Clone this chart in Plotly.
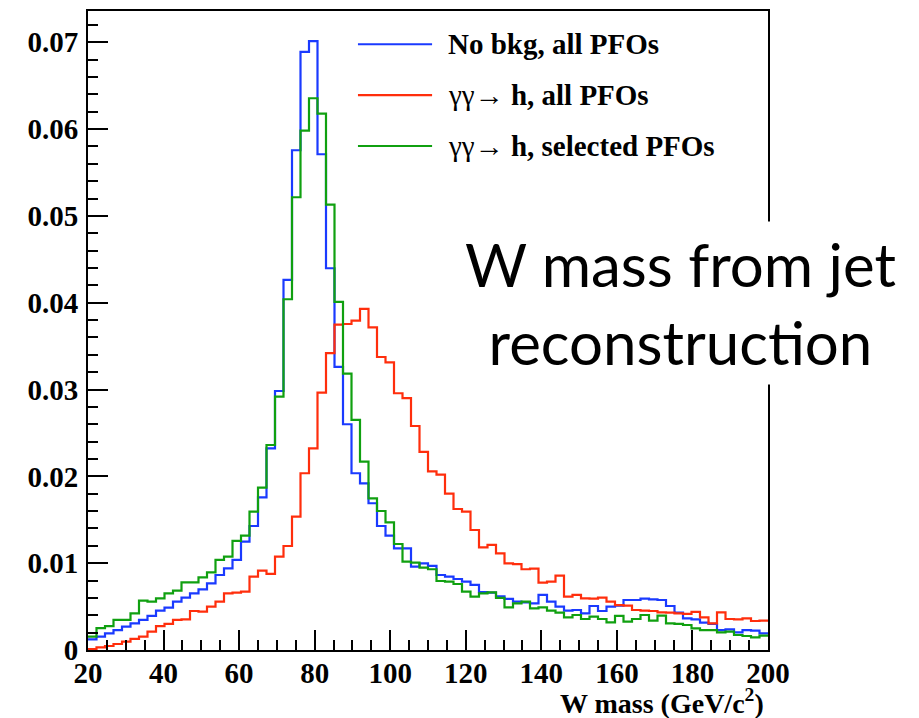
import numpy as np
import plotly.graph_objects as go

# ---- binning ----
x_min, x_max, n_bins = 20.0, 200.0, 80
bin_edges = np.linspace(x_min, x_max, n_bins + 1)

# ---- series values (normalised entries per bin) ----
no_bkg_all = [
    0.00123, 0.00153, 0.00192, 0.00230, 0.00269, 0.00307, 0.00346, 0.00392, 0.00453, 0.00488,
    0.00557, 0.00603, 0.00653, 0.00699, 0.00768, 0.00864, 0.00941, 0.01037, 0.01248, 0.01428,
    0.01759, 0.02323, 0.02983, 0.04262, 0.05756, 0.06889, 0.07012, 0.05710, 0.04397, 0.03260,
    0.02600, 0.02036, 0.01920, 0.01690, 0.01428, 0.01317, 0.01171, 0.01171, 0.00960, 0.00998,
    0.00968, 0.00864, 0.00845, 0.00818, 0.00787, 0.00749, 0.00668, 0.00660, 0.00618, 0.00590,
    0.00557, 0.00549, 0.00537, 0.00634, 0.00557, 0.00499, 0.00453, 0.00461, 0.00422, 0.00507,
    0.00449, 0.00499, 0.00510, 0.00576, 0.00576, 0.00591, 0.00584, 0.00576, 0.00507, 0.00430,
    0.00365, 0.00353, 0.00315, 0.00300, 0.00230, 0.00238, 0.00204, 0.00230, 0.00223, 0.00192,
]
gg_h_all = [
    0.00010, 0.00030, 0.00046, 0.00069, 0.00096, 0.00127, 0.00153, 0.00211, 0.00276, 0.00300,
    0.00346, 0.00353, 0.00449, 0.00441, 0.00499, 0.00557, 0.00653, 0.00660, 0.00672, 0.00845,
    0.00914, 0.00876, 0.01075, 0.01198, 0.01536, 0.02036, 0.02323, 0.02964, 0.03420, 0.03748,
    0.03755, 0.03794, 0.03930, 0.03717, 0.03375, 0.03314, 0.02957, 0.02900, 0.02580, 0.02283,
    0.02058, 0.02020, 0.01800, 0.01624, 0.01593, 0.01382, 0.01183, 0.01210, 0.01113, 0.00998,
    0.00990, 0.00930, 0.00937, 0.00776, 0.00787, 0.00856, 0.00614, 0.00634, 0.00595, 0.00591,
    0.00603, 0.00557, 0.00518, 0.00510, 0.00461, 0.00453, 0.00449, 0.00434, 0.00430, 0.00422,
    0.00415, 0.00438, 0.00376, 0.00307, 0.00434, 0.00357, 0.00353, 0.00365, 0.00334, 0.00338,
]
gg_h_selected = [
    0.00153, 0.00253, 0.00276, 0.00346, 0.00346, 0.00422, 0.00568, 0.00557, 0.00595, 0.00653,
    0.00683, 0.00779, 0.00779, 0.00837, 0.00895, 0.01037, 0.01075, 0.01256, 0.01317, 0.01593,
    0.01870, 0.02361, 0.02918, 0.04040, 0.05215, 0.05982, 0.06355, 0.06178, 0.05130, 0.04010,
    0.03183, 0.02650, 0.02169, 0.01747, 0.01601, 0.01471, 0.01221, 0.01017, 0.01006, 0.00948,
    0.00930, 0.00795, 0.00787, 0.00760, 0.00672, 0.00614, 0.00653, 0.00664, 0.00600, 0.00491,
    0.00537, 0.00557, 0.00480, 0.00491, 0.00453, 0.00430, 0.00376, 0.00403, 0.00357, 0.00384,
    0.00357, 0.00319, 0.00392, 0.00326, 0.00357, 0.00403, 0.00338, 0.00396, 0.00307, 0.00300,
    0.00288, 0.00250, 0.00230, 0.00230, 0.00204, 0.00211, 0.00173, 0.00161, 0.00146, 0.00165,
]

series_names = ["<b>No bkg, all PFOs</b>", "γγ→ <b>h, all PFOs</b>", "γγ→ <b>h, selected PFOs</b>"]
series_colors = ["#1a3aff", "#ff2e0c", "#10a010"]
series_values = [no_bkg_all, gg_h_all, gg_h_selected]

# ---- tick labels ----
x_tick_vals = [20, 40, 60, 80, 100, 120, 140, 160, 180, 200]
x_tick_text = ["20", "40", "60", "80", "100", "120", "140", "160", "180", "200"]
y_tick_vals = [0, 0.01, 0.02, 0.03, 0.04, 0.05, 0.06, 0.07]
y_tick_text = ["0", "0.01", "0.02", "0.03", "0.04", "0.05", "0.06", "0.07"]

x_title = "<b>W mass (GeV/c<sup>2</sup>)</b>"
overlay_text = "W mass from jet<br>reconstruc\u200ction"

serif = "Liberation Serif"

fig = go.Figure()
for name, color, vals in zip(series_names, series_colors, series_values):
    fig.add_trace(go.Scatter(
        x=bin_edges, y=list(vals) + [vals[-1]],
        mode="lines", line=dict(color=color, width=2.2, shape="hv"),
        name=name, showlegend=False, hoverinfo="skip",
    ))

axis_common = dict(
    showgrid=False, zeroline=False, showline=True, linecolor="black", linewidth=2,
    mirror=True, ticks="inside", ticklen=20, tickwidth=2, tickcolor="black",
    tickfont=dict(family=serif, size=29, color="black", weight="bold"),
    automargin=False,
)

fig.update_xaxes(
    range=[x_min, x_max], tickmode="array", tickvals=x_tick_vals, ticktext=x_tick_text,
    minor=dict(tickmode="linear", tick0=0, dtick=5, ticks="inside", ticklen=10,
               tickwidth=2, tickcolor="black"),
    ticklabelstandoff=-4,
    **axis_common,
)
fig.update_yaxes(
    range=[0, 0.0736], tickmode="array", tickvals=y_tick_vals, ticktext=y_tick_text,
    minor=dict(tickmode="linear", tick0=0, dtick=0.002, ticks="inside", ticklen=10,
               tickwidth=2, tickcolor="black"),
    ticklabelstandoff=2,
    **axis_common,
)

# legend (drawn manually to match ROOT-style long line samples, no border)
legend_y = [0.948, 0.8685, 0.7887]
for name, color, ly in zip(series_names, series_colors, legend_y):
    fig.add_shape(type="line", xref="paper", yref="paper",
                  x0=0.397, x1=0.506, y0=ly, y1=ly,
                  line=dict(color=color, width=2.2))
    fig.add_annotation(xref="paper", yref="paper", x=0.526, y=ly,
                       xanchor="left", yanchor="middle", showarrow=False,
                       text=name, font=dict(family=serif, size=29, color="black"))

# x-axis title (ROOT style: right aligned under axis)
fig.add_annotation(xref="paper", yref="paper", x=0.995, y=-0.0805,
                   xanchor="right", yanchor="middle", showarrow=False, borderpad=0,
                   text=x_title, font=dict(family=serif, size=28, color="black"))

# big overlay caption
fig.add_annotation(xref="paper", yref="paper", x=0.872, y=0.543,
                   xanchor="center", yanchor="middle", showarrow=False,
                   text=overlay_text, align="center", bgcolor="white", borderpad=6,
                   font=dict(family="Lato", size=60, color="black"))

# the page body adds an 8px offset, so the figure is sized to fit the window
fig.update_layout(
    width=911, height=710,
    margin=dict(l=80, r=151, t=3, b=68),
    paper_bgcolor="white", plot_bgcolor="white",
    showlegend=False,
)

fig.write_html("out.html")
